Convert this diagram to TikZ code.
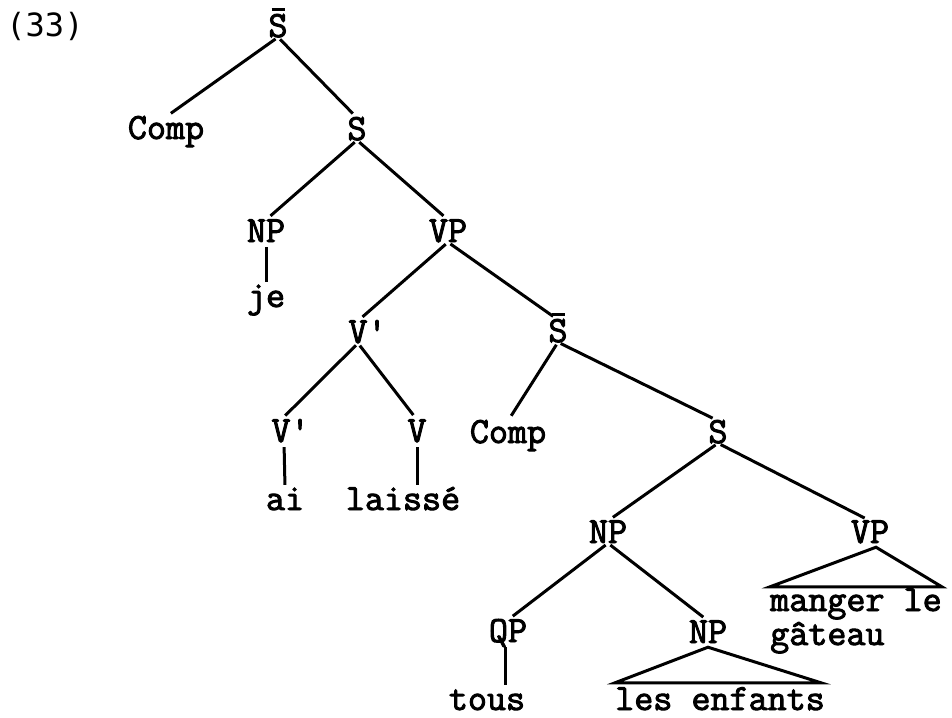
\documentclass[tikz,border=0pt]{standalone}
\usepackage{fontspec}
\newfontfamily\tw{Latin Modern Mono}[FakeBold=2.5]
\newfontfamily\exfont{DejaVu Sans Mono}
\newcommand\ovS{\leavevmode\rlap{\hspace{3.2pt}\rule[26pt]{13pt}{3.2pt}}S}
\newcommand\pr{\rlap{\textquotesingle}}
\begin{document}
\begin{tikzpicture}[x=1pt,y=-1pt,
  cat/.style={font=\tw\fontsize{37}{40}\selectfont, inner sep=0pt, text height=22pt, text depth=0pt, anchor=base},
  edge/.style={line width=3pt, shorten <=3pt, shorten >=6pt},
  vline/.style={line width=3pt, shorten <=5pt, shorten >=3pt},
  tri/.style={line width=3pt, line join=miter}]
\useasboundingbox (0,0) rectangle (952,717);
\node[font=\exfont\fontsize{32}{34}\selectfont, inner sep=0pt, anchor=base] (ex) at (45,37) {(33)};
\node[cat] (S0) at (278,37) {\ovS};
\node[cat] (Comp1) at (166,139) {Comp};
\node[cat] (S1) at (357,140) {S};
\node[cat] (NP1) at (266,242) {NP};
\node[cat] (je) at (266,307) {je};
\node[cat] (VP1) at (448,242) {VP};
\node[cat] (Vb1) at (358,343) {V\pr};
\node[cat] (S2b) at (558,342) {\ovS};
\node[cat] (Vb2) at (281,442) {V\pr};
\node[cat] (V) at (417,442) {V};
\node[cat] (Comp2) at (508,443) {Comp};
\node[cat] (S2) at (718,443) {S};
\node[cat] (ai) at (285,510) {ai};
\node[cat] (laisse) at (403,510) {laissé};
\node[cat] (NP3) at (608,543) {NP};
\node[cat] (VP3) at (870,543) {VP};
\node[cat, anchor=base west] (mg1) at (770,611) {manger le};
\node[cat, anchor=base west] (mg2) at (770,645) {gâteau};
\node[cat] (QP) at (508,642) {QP};
\node[cat] (NP4) at (708,643) {NP};
\node[cat] (tous) at (487,710) {tous};
\node[cat] (les) at (720,710) {les enfants};

\draw[edge] (S0.south) -- (Comp1.north);
\draw[edge] (S0.south) -- (S1.north);
\draw[edge] (S1.south) -- (NP1.north);
\draw[edge] (S1.south) -- (VP1.north);
\draw[vline] (NP1.south) -- (je.north);
\draw[edge] (VP1.south) -- (Vb1.north);
\draw[edge] (VP1.south) -- (S2b.north);
\draw[edge] (Vb1.south) -- (Vb2.north);
\draw[edge] (Vb1.south) -- (V.north);
\draw[edge] (S2b.south) -- (Comp2.north);
\draw[edge] (S2b.south) -- (S2.north);
\draw[vline] ([xshift=3pt]Vb2.south) -- (ai.north);
\draw[vline] (V.south) -- (V.south |- laisse.north);
\draw[edge] (S2.south) -- (NP3.north);
\draw[edge] (S2.south) -- (VP3.north);
\draw[edge] (NP3.south) -- (QP.north);
\draw[edge] (NP3.south) -- (NP4.north);
\draw[vline] ([xshift=-3pt]QP.south) -- ([xshift=-3pt]QP.south |- tous.north);
\draw[tri] ([xshift=6pt,yshift=-4pt]VP3.south) -- ([yshift=2pt]mg1.north west) -- ([yshift=2pt]mg1.north east) -- cycle;
\draw[tri] ([yshift=-4pt]NP4.south) -- ([yshift=5pt]les.north west) -- ([xshift=-4pt,yshift=5pt]les.north east) -- cycle;
\end{tikzpicture}
\end{document}
